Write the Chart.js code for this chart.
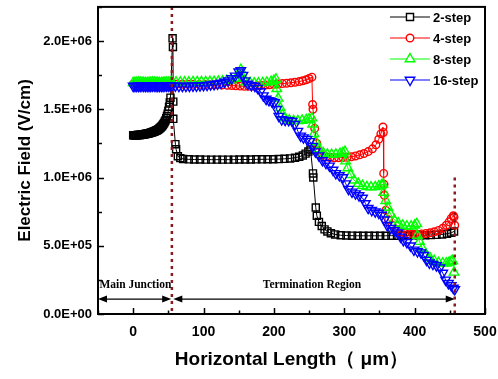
<!DOCTYPE html>
<html>
<head>
<meta charset="utf-8">
<script src="https://cdn.jsdelivr.net/npm/chart.js@4.4.0/dist/chart.umd.min.js"></script>
<style>
	html, body { margin: 0; padding: 0; background: #fff; }
	canvas { display: block; }
</style>
</head>
<body>
<canvas id="fieldChart" width="498" height="379"></canvas>
<script>
	// ===== DATA (x in um, E in 1E+06 V/cm) =====

	const seriesNames = ['2-step', '4-step', '8-step', '16-step'];

	const x2 = [0, 1, 2, 3, 4, 5, 6, 7, 8, 9, 10, 11, 12, 13, 14, 15, 16, 17, 18, 19, 20, 21, 22, 23, 24, 25, 26,
		27, 28, 29, 30, 31, 32, 33, 34, 35, 36, 37, 38, 39, 40, 41, 42, 43, 44, 45, 46, 47, 48, 49, 50, 51, 52, 53,
		56, 56.5, 57, 57, 60, 61, 63.5, 67, 71,
		79, 87, 95, 103, 111, 119, 127, 135, 143, 151, 159, 167, 175, 183, 191, 199, 207, 215, 223, 230, 236, 241, 245, 249, 252,
		255.5, 256, 259.5, 261, 264, 268, 272, 276, 281, 287, 295,
		303, 311, 319, 327, 335, 343, 351, 359, 367, 375, 383, 391, 399, 407, 415, 423, 431, 439, 446, 452, 456];
	const y2 = [1.310, 1.310, 1.310, 1.310, 1.310, 1.310, 1.311, 1.311, 1.311, 1.312, 1.312, 1.313, 1.314, 1.314, 1.315, 1.316, 1.317, 1.318, 1.319, 1.320, 1.321, 1.322, 1.324, 1.325, 1.327, 1.328, 1.330,
		1.331, 1.333, 1.335, 1.337, 1.339, 1.342, 1.344, 1.347, 1.350, 1.354, 1.358, 1.362, 1.367, 1.372, 1.378, 1.385, 1.392, 1.400, 1.410, 1.420, 1.434, 1.450, 1.468, 1.490, 1.518, 1.550, 1.585,
		2.020, 1.956, 1.556, 1.430, 1.244, 1.207, 1.156, 1.142, 1.136,
		1.133, 1.132, 1.132, 1.131, 1.131, 1.131, 1.131, 1.131, 1.131, 1.132, 1.132, 1.132, 1.133, 1.133, 1.134, 1.134, 1.135, 1.137, 1.140, 1.145, 1.152, 1.162, 1.175, 1.190, 1.205,
		1.030, 1.000, 0.780, 0.720, 0.675, 0.645, 0.620, 0.605, 0.592, 0.583, 0.577,
		0.575, 0.574, 0.573, 0.573, 0.573, 0.573, 0.573, 0.573, 0.574, 0.574, 0.575, 0.575, 0.576, 0.576, 0.577, 0.578, 0.580, 0.583, 0.588, 0.595, 0.605];

	const x4 = [0, 5, 10, 15, 20, 25, 30, 35, 40, 45, 50, 55,
		62, 70, 78, 86, 94, 102, 110, 118, 126, 134, 140,
		146, 152, 158, 164, 170, 176, 182, 188, 194, 200, 206, 212, 218, 224, 230, 236, 241, 246, 250, 254,
		255, 255.5, 258, 261, 264, 268, 274, 280, 286, 292, 298, 304, 310, 316, 322, 328, 334, 340, 345, 349, 352, 355,
		355.5, 356, 356.5, 357, 359, 363, 368, 374, 380, 386, 392, 398, 404, 410, 416, 422, 428, 434, 440, 445, 449, 452, 455, 456, 457];
	const y4 = [1.684, 1.685, 1.685, 1.686, 1.686, 1.686, 1.686, 1.686, 1.685, 1.685, 1.684, 1.684,
		1.684, 1.684, 1.683, 1.683, 1.682, 1.681, 1.680, 1.679, 1.678, 1.676, 1.674,
		1.672, 1.670, 1.668, 1.668, 1.670, 1.672, 1.675, 1.678, 1.680, 1.682, 1.685, 1.688, 1.691, 1.694, 1.698, 1.703, 1.709, 1.716, 1.725, 1.735,
		1.535, 1.500, 1.360, 1.250, 1.190, 1.165, 1.152, 1.147, 1.145, 1.145, 1.146, 1.148, 1.152, 1.158, 1.166, 1.176, 1.190, 1.210, 1.240, 1.280, 1.320, 1.370,
		1.330, 1.030, 0.950, 0.870, 0.760, 0.690, 0.650, 0.620, 0.600, 0.592, 0.587, 0.585, 0.585, 0.587, 0.590, 0.595, 0.602, 0.612, 0.628, 0.650, 0.675, 0.700, 0.720, 0.710, 0.650];

	const x8 = [0, 2.5, 5, 7.5, 10, 12.5, 15, 17.5, 20, 22.5, 25, 27.5, 30, 32.5, 35, 37.5, 40, 42.5, 45, 47.5, 50, 52.5, 55,
		61, 67, 73, 79, 85, 91, 97, 103, 109, 115, 121, 127, 133, 139,
		146, 150, 153, 156, 160, 166, 172, 178, 184, 190, 196, 200, 203,
		204, 206, 209, 212, 216, 222, 228, 234, 240, 246, 250, 254,
		255, 257, 260, 264, 270, 276, 282, 288, 294, 298, 301,
		302, 305, 309, 314, 320, 326, 332, 338, 344, 349, 353, 355,
		356, 359, 362, 366, 371, 377, 383, 389, 395, 400, 403,
		404, 407, 411, 416, 422, 428, 434, 440, 445, 449, 452, 454, 456];
	const y8 = [1.694, 1.695, 1.695, 1.696, 1.696, 1.695, 1.695, 1.694, 1.694, 1.695, 1.695, 1.696, 1.696, 1.695, 1.695, 1.694, 1.694, 1.695, 1.695, 1.696, 1.696, 1.697, 1.697,
		1.698, 1.698, 1.699, 1.699, 1.700, 1.700, 1.701, 1.701, 1.702, 1.703, 1.704, 1.706, 1.709, 1.714,
		1.725, 1.760, 1.790, 1.730, 1.700, 1.695, 1.692, 1.692, 1.694, 1.697, 1.702, 1.710, 1.720,
		1.650, 1.580, 1.510, 1.460, 1.435, 1.420, 1.415, 1.415, 1.418, 1.422, 1.428, 1.435,
		1.390, 1.320, 1.260, 1.210, 1.180, 1.170, 1.168, 1.170, 1.175, 1.180, 1.190,
		1.120, 1.070, 1.020, 0.980, 0.955, 0.940, 0.932, 0.930, 0.932, 0.937, 0.944, 0.950,
		0.890, 0.830, 0.780, 0.730, 0.690, 0.665, 0.650, 0.643, 0.643, 0.650, 0.660,
		0.575, 0.530, 0.480, 0.440, 0.410, 0.390, 0.377, 0.372, 0.372, 0.378, 0.385, 0.390, 0.305];

	const x16 = [0, 2.5, 5, 7.5, 10, 12.5, 15, 17.5, 20, 22.5, 25, 27.5, 30, 32.5, 35, 37.5, 40, 42.5, 45, 47.5, 50, 52.5, 55,
		60, 65, 70, 75, 80, 85, 90, 95, 100, 105, 110, 115, 120, 125, 130,
		135, 140, 145, 150, 153, 156, 159, 163, 168, 173, 177, 181, 185, 189, 193, 197, 201,
		204, 207, 211, 216, 221, 226, 230, 234, 238, 242, 247, 251, 255, 259, 264, 269, 274, 279, 284, 288, 293, 298,
		302, 306, 311, 316, 321, 326, 330, 334, 339, 344, 349, 353, 357, 361, 366, 371, 376, 380, 384, 389, 394, 399,
		404, 409, 413, 417, 421, 426, 431, 436, 440, 444, 448, 452, 455, 457];
	const y16 = [1.670, 1.669, 1.669, 1.670, 1.670, 1.671, 1.670, 1.669, 1.669, 1.670, 1.670, 1.671, 1.671, 1.670, 1.670, 1.669, 1.670, 1.670, 1.671, 1.671, 1.672, 1.672, 1.672,
		1.671, 1.670, 1.669, 1.669, 1.670, 1.671, 1.672, 1.673, 1.675, 1.677, 1.680, 1.683, 1.687, 1.692, 1.700,
		1.710, 1.725, 1.745, 1.775, 1.785, 1.750, 1.710, 1.685, 1.675, 1.670, 1.655, 1.630, 1.600, 1.575, 1.565, 1.558, 1.550,
		1.500, 1.450, 1.425, 1.420, 1.418, 1.412, 1.390, 1.340, 1.305, 1.292, 1.280, 1.265, 1.230, 1.190, 1.160, 1.125, 1.105, 1.085, 1.055, 1.030, 1.015, 1.000,
		0.955, 0.915, 0.895, 0.882, 0.868, 0.850, 0.810, 0.775, 0.760, 0.750, 0.740, 0.725, 0.690, 0.650, 0.628, 0.612, 0.595, 0.565, 0.540, 0.525, 0.500, 0.470,
		0.458, 0.450, 0.430, 0.395, 0.375, 0.365, 0.355, 0.340, 0.300, 0.250, 0.225, 0.210, 0.190, 0.180];

	// region markers (dotted lines) and region arrows
	const boundaryX = [55, 457];
	const boundaryTop = [2.25, 1.0];
	const regionLabels = ['Main Junction', 'Termination Region'];
	const regionFrom = [-50, 57];
	const regionTo = [54, 457];
	const regionLabelX = [-48, 254];
	const arrowY = 0.109;
	const labelY = 0.211;

	// ===== STYLES =====

	const FONT = '"Liberation Sans", Arial, sans-serif';
	const SERIF = '"Liberation Serif", "Times New Roman", serif';
	const styles = [
		{ color: '#000000', shape: 'rect', radius: 5, rot: 0 },
		{ color: '#ff0000', shape: 'circle', radius: 3.8, rot: 0 },
		{ color: '#00ff00', shape: 'triangle', radius: 5.5, rot: 0 },
		{ color: '#0000ff', shape: 'triangle', radius: 5.5, rot: 180 }
	];

	function zip(xs, ys) {
		return xs.map((x, i) => ({ x: x, y: ys[i] }));
	}

	function sciLabel(v) {
		const s = (v * 1e6).toExponential(1).split('e');
		const exp = parseInt(s[1], 10);
		return s[0] + 'E' + (exp < 0 ? '-' : '+') + String(Math.abs(exp)).padStart(2, '0');
	}

	function marker(ctx, st, x, y) {
		ctx.save();
		ctx.translate(x, y);
		ctx.rotate(st.rot * Math.PI / 180);
		ctx.beginPath();
		const r = st.radius;
		if (st.shape === 'rect') {
			const h = r * Math.SQRT1_2;
			ctx.rect(-h, -h, 2 * h, 2 * h);
		} else if (st.shape === 'circle') {
			ctx.arc(0, 0, r, 0, Math.PI * 2);
		} else {
			for (let k = 0; k < 3; k++) {
				const a = k * 2 * Math.PI / 3;
				const px = Math.sin(a) * r, py = -Math.cos(a) * r;
				if (k === 0) ctx.moveTo(px, py); else ctx.lineTo(px, py);
			}
			ctx.closePath();
		}
		ctx.fillStyle = '#fff';
		ctx.fill();
		ctx.lineWidth = 1.4;
		ctx.strokeStyle = st.color;
		ctx.stroke();
		ctx.restore();
	}

	function arrowHead(ctx, x, y, dir) {
		ctx.beginPath();
		ctx.moveTo(x, y);
		ctx.lineTo(x - dir * 9, y - 3.5);
		ctx.lineTo(x - dir * 9, y + 3.5);
		ctx.closePath();
		ctx.fill();
	}

	// ===== OVERLAY PLUGIN =====

	const overlay = {
		id: 'overlay',
		afterDatasetsDraw(chart) {
			const ctx = chart.ctx;
			const xs = chart.scales.x, ys = chart.scales.y;
			ctx.save();
			ctx.strokeStyle = '#8b1a1a';
			ctx.lineWidth = 2.5;
			ctx.setLineDash([3, 4]);
			boundaryX.forEach((bx, i) => {
				const px = xs.getPixelForValue(bx);
				ctx.beginPath();
				ctx.moveTo(px, ys.getPixelForValue(boundaryTop[i]));
				ctx.lineTo(px, ys.getPixelForValue(0));
				ctx.stroke();
			});
			ctx.restore();
		},
		afterDraw(chart) {
			const ctx = chart.ctx;
			const a = chart.chartArea;
			const xs = chart.scales.x, ys = chart.scales.y;
			ctx.save();

			// arrows and region labels
			ctx.strokeStyle = '#000';
			ctx.fillStyle = '#000';
			ctx.lineWidth = 1.4;
			const ay = ys.getPixelForValue(arrowY);
			regionFrom.forEach((f, i) => {
				const p0 = xs.getPixelForValue(f), p1 = xs.getPixelForValue(regionTo[i]);
				ctx.beginPath();
				ctx.moveTo(p0 + 4, ay);
				ctx.lineTo(p1 - 4, ay);
				ctx.stroke();
				arrowHead(ctx, p0, ay, -1);
				arrowHead(ctx, p1, ay, 1);
			});
			ctx.font = 'bold 11.5px ' + SERIF;
			ctx.textBaseline = 'middle';
			const ly = ys.getPixelForValue(labelY);
			ctx.textAlign = 'left';
			ctx.fillText(regionLabels[0], xs.getPixelForValue(regionLabelX[0]), ly);
			ctx.textAlign = 'center';
			ctx.fillText(regionLabels[1], xs.getPixelForValue(regionLabelX[1]), ly);

			// frame
			ctx.lineWidth = 2;
			ctx.strokeRect(a.left, a.top, a.right - a.left, a.bottom - a.top);

			// inward tick marks
			ctx.lineWidth = 1.5;
			ys.ticks.forEach(t => {
				const py = Math.round(ys.getPixelForValue(t.value)) + 0.5;
				const len = t.label ? 6 : 4;
				ctx.beginPath();
				ctx.moveTo(a.left, py);
				ctx.lineTo(a.left + len, py);
				ctx.stroke();
			});
			xs.ticks.forEach(t => {
				const px = Math.round(xs.getPixelForValue(t.value)) + 0.5;
				const len = t.label ? 6 : 3.5;
				ctx.beginPath();
				ctx.moveTo(px, a.bottom);
				ctx.lineTo(px, a.bottom - len);
				ctx.stroke();
			});

			// legend
			ctx.font = 'bold 13px ' + FONT;
			ctx.textAlign = 'left';
			ctx.textBaseline = 'middle';
			seriesNames.forEach((name, i) => {
				const ry = 17 + i * 21;
				const st = styles[i];
				ctx.strokeStyle = st.color;
				ctx.lineWidth = 1;
				ctx.beginPath();
				ctx.moveTo(390, ry);
				ctx.lineTo(430, ry);
				ctx.stroke();
				marker(ctx, st, 410, ry);
				ctx.fillStyle = '#000';
				ctx.fillText(name, 433, ry + 1);
			});
			ctx.restore();
		}
	};

	// ===== CHART =====

	const seriesX = [x2, x4, x8, x16];
	const seriesY = [y2, y4, y8, y16];

	const datasets = seriesNames.map((name, i) => ({
		label: name,
		data: zip(seriesX[i], seriesY[i]),
		showLine: true,
		borderColor: styles[i].color,
		borderWidth: 1,
		pointStyle: styles[i].shape,
		pointRadius: styles[i].radius,
		pointRotation: styles[i].rot,
		pointBorderWidth: 1.4,
		pointBorderColor: styles[i].color,
		pointBackgroundColor: 'rgba(255,255,255,0)',
		order: 4 - i
	}));

	new Chart(document.getElementById('fieldChart').getContext('2d'), {
		type: 'scatter',
		data: { datasets: datasets },
		options: {
			responsive: false,
			animation: false,
			devicePixelRatio: 1,
			layout: { padding: { top: 5, right: 13, left: 0, bottom: 0 } },
			plugins: {
				legend: { display: false },
				tooltip: { enabled: false }
			},
			scales: {
				x: {
					type: 'linear',
					min: -50,
					max: 500,
					afterFit: s => { s.height = 65; s.paddingLeft = 0; s.paddingRight = 0; },
					grid: { display: false, drawTicks: false },
					border: { display: false },
					ticks: {
						stepSize: 50,
						autoSkip: false,
						maxRotation: 0,
						padding: 10,
						color: '#000',
						font: { family: FONT, size: 14, weight: 'bold' },
						callback: v => (v % 100 === 0 && v >= 0) ? String(v) : ''
					},
					title: {
						display: true,
						text: 'Horizontal Length（ μm）',
						color: '#000',
						padding: { top: 0, bottom: 8 },
						font: { family: FONT, size: 19, weight: 'bold' }
					}
				},
				y: {
					type: 'linear',
					min: 0,
					max: 2.25,
					afterFit: s => { s.width = 98; s.paddingTop = 0; s.paddingBottom = 0; },
					grid: { display: false, drawTicks: false },
					border: { display: false },
					ticks: {
						stepSize: 0.25,
						autoSkip: false,
						padding: 6,
						color: '#000',
						font: { family: FONT, size: 13, weight: 'bold' },
						callback: v => (Math.abs(v * 2 - Math.round(v * 2)) < 1e-6) ? sciLabel(v) : ''
					},
					title: {
						display: true,
						text: 'Electric Field (V/cm)',
						color: '#000',
						padding: { top: 15, bottom: 0 },
						font: { family: FONT, size: 17, weight: 'bold' }
					}
				}
			}
		},
		plugins: [overlay]
	});
</script>
</body>
</html>
